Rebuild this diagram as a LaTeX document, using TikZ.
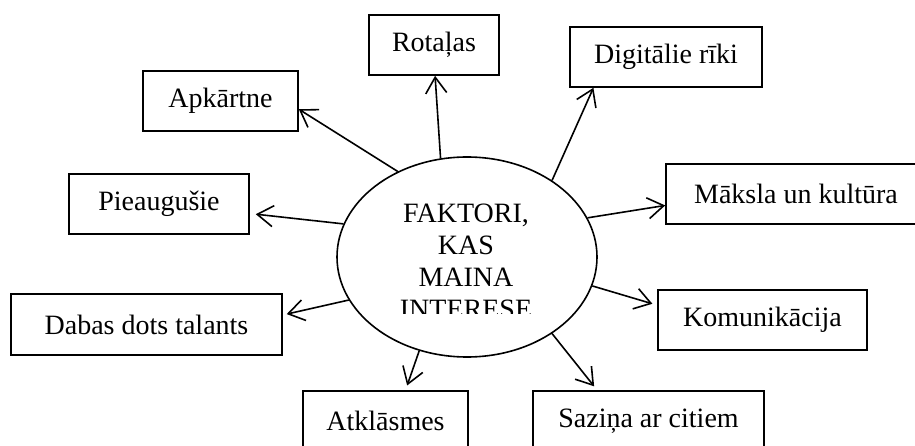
\documentclass[tikz,border=0pt]{standalone}
\usepackage{fontspec}
\setmainfont{Liberation Serif}
\usepackage{tikz}
\usetikzlibrary{shapes.geometric, arrows.meta}
\definecolor{inkblack}{HTML}{000000}

\begin{document}
\begin{tikzpicture}[x=1pt, y=-1pt,
    factorbox/.style={draw=inkblack, line width=1.6pt, minimum height=60pt, inner sep=0pt, font=\fontsize{28}{32}\selectfont},
    centreoval/.style={ellipse, draw=inkblack, line width=1.6pt, minimum width=260pt, minimum height=200pt, inner sep=0pt},
    factorarrow/.style={draw=inkblack, line width=1.6pt, -{Straight Barb[length=16pt, width=21pt]}}]
    \useasboundingbox (0,0) rectangle (915,446);

    % Central oval with its (cut off) caption
    \node[centreoval] (fk) at (467,257) {};
    \begin{scope}
      \clip (337,150) rectangle (597,313);
      \node[align=center, anchor=north, inner sep=0pt, font=\fontsize{28}{32}\selectfont] (fktext) at (466,204) {FAKTORI,\\KAS\\MAINA\\INTERESE};
    \end{scope}

    % Factor boxes
    \node[factorbox, minimum width=130pt] (rot) at (434,45) {Rotaļas};
    \node[factorbox, minimum width=192pt] (dig) at (666,57) {Digitālie rīki};
    \node[factorbox, minimum width=155pt] (apk) at (220.5,101) {Apkārtne};
    \node[factorbox, minimum width=180pt] (pie) at (159,204) {Pieaugušie};
    \node[factorbox, minimum width=260pt] (mak) at (796,194) {Māksla un kultūra};
    \node[factorbox, minimum width=209pt] (kom) at (762.5,320) {Komunikācija};
    \node[factorbox, minimum width=271pt, minimum height=61pt] (dab) at (146.5,324.5) {Dabas dots talants};
    \node[factorbox, minimum width=165pt] (atk) at (385.5,421) {Atklāsmes};
    \node[factorbox, minimum width=231pt] (saz) at (648.5,421) {Saziņa ar citiem};

    % Arrows from the oval out to the boxes
    \draw[factorarrow] (fk.129) -- (apk.-6);
    \draw[factorarrow] (fk.105) -- (rot.-88);
    \draw[factorarrow] (fk.42) -- (dig.-157);
    \draw[factorarrow] (fk.18) -- (mak.185);
    \draw[factorarrow, shorten >=5pt] (fk.-13) -- (kom.172);
    \draw[factorarrow, shorten >=5pt] (fk.-42) -- (saz.149);
    \draw[factorarrow, shorten >=5pt] (fk.-117) -- (atk.57);
    \draw[factorarrow, shorten >=4pt] (fk.-160) -- (dab.4);
    \draw[factorarrow, shorten >=6pt] (fk.165) -- (pie.-6);
  \end{tikzpicture}
\end{document}
